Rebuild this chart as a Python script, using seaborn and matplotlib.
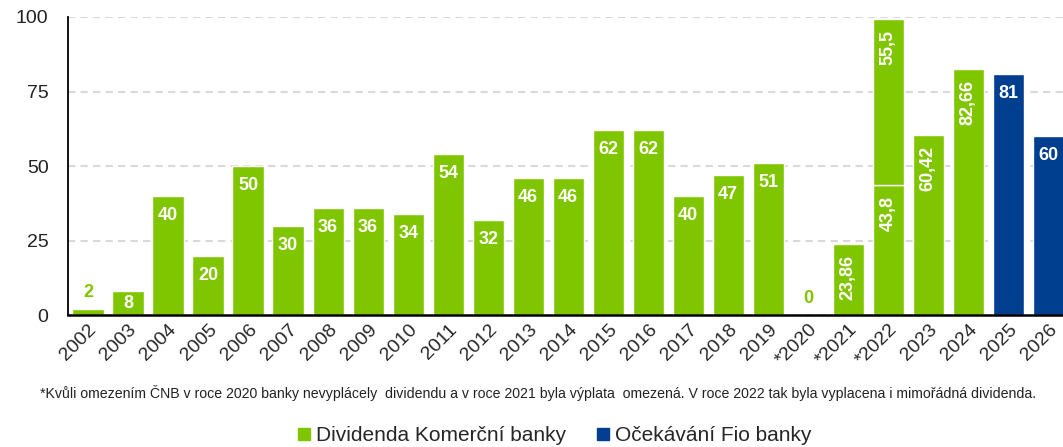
import pandas as pd
import matplotlib.pyplot as plt
import seaborn as sns
from matplotlib.patches import Patch

# data
years = ["2002", "2003", "2004", "2005", "2006", "2007", "2008", "2009", "2010",
         "2011", "2012", "2013", "2014", "2015", "2016", "2017", "2018", "2019",
         "*2020", "*2021", "*2022", "2023", "2024", "2025", "2026"]
values = [2, 8, 40, 20, 50, 30, 36, 36, 34, 54, 32, 46, 46, 62, 62, 40, 47, 51,
          0, 23.86, 43.8, 60.42, 82.66, 81, 60]
series = ["Dividenda Komerční banky"] * 23 + ["Očekávání Fio banky"] * 2
extra_year = "*2022"
extra_value = 55.5  # mimořádná dividenda stacked on 2022

green = "#80c600"
blue = "#003f8f"

data = pd.DataFrame({"rok": years, "dividenda": values, "serie": series})

sns.set_style("white")
plt.rcParams['font.family'] = ['Liberation Sans', 'DejaVu Sans']

fig = plt.figure(figsize=(10.63, 4.47), dpi=100)
ax = fig.add_axes([0.064, 0.295, 0.941, 0.667])

sns.barplot(data=data, x="rok", y="dividenda", hue="serie", dodge=False,
            order=years, palette={"Dividenda Komerční banky": green,
                                  "Očekávání Fio banky": blue},
            saturation=1, width=0.78, edgecolor="white", linewidth=1,
            legend=False, ax=ax, zorder=3)
xi = years.index(extra_year)
ax.bar(xi, extra_value, bottom=values[xi], width=0.78, color=green,
       edgecolor="white", linewidth=1, zorder=3)


def fmt(v):
    s = f"{v:g}"
    return s.replace(".", ",")


def label(x, top, v, rot=False):
    txt = fmt(v)
    if v < 5:
        ax.annotate(txt, (x, top), xytext=(0, 6), textcoords="offset points",
                    ha="center", va="bottom", color=green, fontsize=13,
                    fontweight="bold", zorder=4)
    elif v < 12:
        ax.text(x, top / 2, txt, ha="center", va="center", color="white",
                fontsize=13, fontweight="bold", zorder=4)
    else:
        ax.annotate(txt, (x, top), xytext=(0, -8), textcoords="offset points",
                    ha="center", va="top", color="white", fontsize=13,
                    fontweight="bold", rotation=90 if rot else 0, zorder=4)


for i, v in enumerate(values):
    label(i, v, v, rot=(v != int(v)))
label(xi, values[xi] + extra_value, extra_value, rot=True)

ax.set_ylim(0, 100)
ax.set_xlim(-0.5, len(years) - 0.5)
ax.set_yticks([0, 25, 50, 75, 100])
ax.yaxis.grid(True, color="#d9d9d9", linestyle=(0, (3.5, 2.5)), linewidth=1.5,
              zorder=0)
ax.xaxis.grid(False)
ax.set_xlabel("")
ax.set_ylabel("")
ax.tick_params(axis="y", labelsize=14, length=0, pad=14, colors="#222222")
ax.tick_params(axis="x", labelsize=14, length=0, pad=4)
for t in ax.get_xticklabels():
    t.set_rotation(45)
    t.set_ha("right")
    t.set_rotation_mode("anchor")
for s in ["top", "right"]:
    ax.spines[s].set_visible(False)
ax.spines["left"].set_color("black")
ax.spines["left"].set_linewidth(1.3)
ax.spines["bottom"].set_color("black")
ax.spines["bottom"].set_linewidth(1.8)
ax.spines["bottom"].set_zorder(5)

fig.text(0.038, 0.121,
         "*Kvůli omezením ČNB v roce 2020 banky nevyplácely  dividendu a v roce 2021 "
         "byla výplata  omezená. V roce 2022 tak byla vyplacena i mimořádná dividenda.",
         fontsize=10.2, va="center", ha="left", color="#222222")

handles = [Patch(color=green, label="Dividenda Komerční banky"),
           Patch(color=blue, label="Očekávání Fio banky")]
fig.legend(handles=handles, loc="center", bbox_to_anchor=(0.522, 0.025), ncol=2,
           frameon=False, fontsize=15, handlelength=0.55, handleheight=0.55,
           handletextpad=0.3, columnspacing=1.5)

plt.savefig("out.png", dpi=100)
